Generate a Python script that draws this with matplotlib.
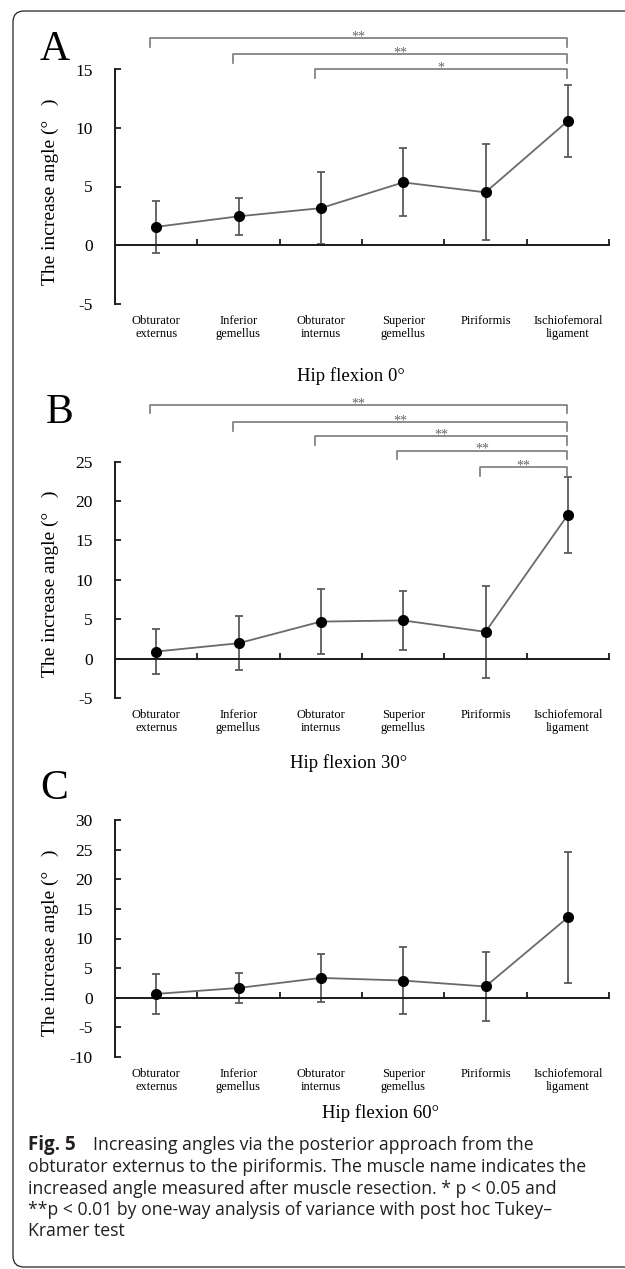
import matplotlib
matplotlib.use("Agg")
import matplotlib.pyplot as plt
from matplotlib.patches import FancyBboxPatch

plt.rcParams['font.family'] = ['Liberation Serif', 'DejaVu Serif']
plt.rcParams['axes.unicode_minus'] = False

# data
categories = ["Obturator\nexternus", "Inferior\ngemellus", "Obturator\ninternus",
              "Superior\ngemellus", "Piriformis", "Ischiofemoral\nligament"]

mean_0 = [1.55, 2.45, 3.15, 5.35, 4.5, 10.6]
sd_0 = [2.2, 1.6, 3.05, 2.9, 4.1, 3.05]

mean_30 = [0.9, 1.95, 4.7, 4.85, 3.4, 18.25]
sd_30 = [2.85, 3.4, 4.15, 3.7, 5.8, 4.8]

mean_60 = [0.65, 1.65, 3.35, 2.9, 1.9, 13.55]
sd_60 = [3.4, 2.55, 4.1, 5.7, 5.8, 11.05]

# significance brackets: (start category, height, stars), all end at the last category
brackets_0 = [(0, 17.65, "**"), (1, 16.3, "**"), (2, 15.0, "*")]
brackets_30 = [(0, 32.2, "**"), (1, 30.0, "**"), (2, 28.2, "**"), (3, 26.4, "**"), (4, 24.3, "**")]
brackets_60 = []

caption_lines = ["obturator externus to the piriformis. The muscle name indicates the",
                 "increased angle measured after muscle resection. * p < 0.05 and",
                 "**p < 0.01 by one-way analysis of variance with post hoc Tukey\u2013",
                 "Kramer test"]

W, H = 625, 1269
fig = plt.figure(figsize=(W / 100, H / 100), dpi=100)

# overlay in pixel coords for the frame and free text
ov = fig.add_axes([0, 0, 1, 1])
ov.set_xlim(0, W)
ov.set_ylim(H, 0)
ov.axis("off")
ov.add_patch(FancyBboxPatch((13, 11), 640, 1256, boxstyle="round,pad=0,rounding_size=11",
                            fill=False, ec="#222222", lw=0.9))


def panel(top, bottom, ylim, step, mean, sd, brackets, letter, letter_xy, title, title_xy, ylab_y):
    ax = fig.add_axes([115 / W, 1 - bottom / H, (609 - 115) / W, (bottom - top) / H])
    ax.patch.set_alpha(0)
    x = list(range(len(categories)))
    ax.plot(x, mean, color="#6a6a6a", lw=1.3, zorder=2)
    ax.errorbar(x, mean, yerr=sd, fmt="none", ecolor="#5a5a5a", elinewidth=1.3,
                capsize=3, capthick=1.3, zorder=2)
    ax.plot(x, mean, "o", color="black", ms=7, zorder=3)

    ax.set_xlim(-0.5, 5.5)
    ax.set_ylim(*ylim)
    ax.set_yticks(range(ylim[0], ylim[1] + 1, step))
    ax.set_xticks([0.5, 1.5, 2.5, 3.5, 4.5, 5.5])
    ax.set_xticklabels([])
    ax.spines["top"].set_visible(False)
    ax.spines["right"].set_visible(False)
    ax.spines["bottom"].set_position(("data", 0))
    for s in ["left", "bottom"]:
        ax.spines[s].set_linewidth(1.4)
        ax.spines[s].set_color("#1a1a1a")
    ax.tick_params(axis="both", direction="in", length=4, width=1.3, color="#1a1a1a")
    ax.tick_params(axis="y", pad=16, labelsize=12.5)

    for i, c in enumerate(categories):
        ax.annotate(c, xy=(i, 0), xycoords=ax.get_xaxis_transform(), xytext=(0, -8),
                    textcoords="offset points", ha="center", va="top", fontsize=9,
                    linespacing=1.15)

    # brackets
    y0, y1 = ylim
    drop = 8.5 * (y1 - y0) / (bottom - top)
    for start, yb, stars in brackets:
        xs = start - 0.07
        xe = 4.99
        ax.plot([xs, xs, xe, xe], [yb - drop, yb, yb, yb - drop], color="#7a7a7a",
                lw=1.2, clip_on=False)
        ax.annotate(stars, xy=((xs + xe) / 2, yb), xytext=(0, -1.5), textcoords="offset points",
                    ha="center", va="baseline", fontsize=10, color="#666666",
                    annotation_clip=False)

    ov.text(letter_xy[0], letter_xy[1], letter, fontsize=30, ha="left", va="baseline")
    ov.text(title_xy[0], title_xy[1], title, fontsize=13.5, ha="left", va="baseline")
    ov.text(50, ylab_y, "The increase angle (\u00b0   )", fontsize=14, rotation=90,
            ha="center", va="center")
    return ax


panel(69.5, 303.5, (-5, 15), 5, mean_0, sd_0, brackets_0, "A", (40, 60),
      "Hip flexion 0\u00b0", (297, 381), 192)
panel(461.7, 698, (-5, 25), 5, mean_30, sd_30, brackets_30, "B", (46, 423),
      "Hip flexion 30\u00b0", (290, 768), 584)
panel(820, 1057, (-10, 30), 5, mean_60, sd_60, brackets_60, "C", (40, 799),
      "Hip flexion 60\u00b0", (322, 1118), 943)

# caption
cap_font = ["Open Sans", "DejaVu Sans"]
ov.text(28, 1150, "Fig. 5", fontsize=13.5, fontweight="bold", family=cap_font,
        color="#231f20", va="baseline")
ov.text(93, 1150, "Increasing angles via the posterior approach from the", fontsize=12.7,
        family=cap_font, color="#231f20", va="baseline")
for i, line in enumerate(caption_lines):
    ov.text(28, 1172 + 21.5 * i, line, fontsize=12.7, family=cap_font, color="#231f20",
            va="baseline")

fig.savefig("out.png", dpi=100)
